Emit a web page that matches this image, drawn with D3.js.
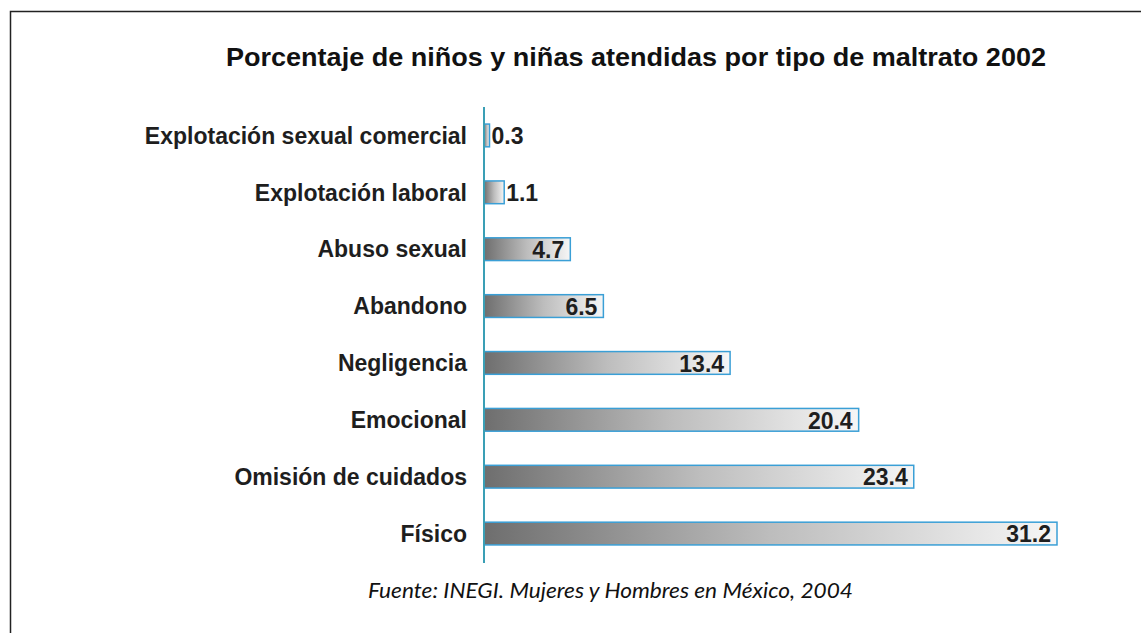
<!DOCTYPE html>
<html>
<head>
<meta charset="utf-8">
<script src="https://cdn.jsdelivr.net/npm/d3@7"></script>
<style>
  body { margin: 0; background: #fff; }
</style>
</head>
<body>
<div id="chart"></div>
<script>
var categories = ['Explotación sexual comercial', 'Explotación laboral', 'Abuso sexual', 'Abandono',
  'Negligencia', 'Emocional', 'Omisión de cuidados', 'Físico'];
var values = [0.3, 1.1, 4.7, 6.5, 13.4, 20.4, 23.4, 31.2];
var title = 'Porcentaje de niños y niñas atendidas por tipo de maltrato 2002';
var source = 'Fuente: INEGI. Mujeres y Hombres en México, 2004';

var W = 1141, H = 633;
var svg = d3.select('#chart').append('svg')
  .attr('width', W)
  .attr('height', H);

// outer frame (runs off the right and bottom)
svg.append('rect')
  .attr('x', 10.5).attr('y', 11.5)
  .attr('width', W).attr('height', H)
  .attr('fill', 'none')
  .attr('stroke', '#222')
  .attr('stroke-width', 1.5);

var grad = svg.append('defs').append('linearGradient')
  .attr('id', 'barfill')
  .attr('x1', '0%').attr('x2', '100%').attr('y1', '0%').attr('y2', '0%');
grad.append('stop').attr('offset', '0%').attr('stop-color', '#6e6e6e');
grad.append('stop').attr('offset', '50%').attr('stop-color', '#bdbdbd');
grad.append('stop').attr('offset', '100%').attr('stop-color', '#f6f6f6');

var x = d3.scaleLinear().domain([0, 31.2]).range([484, 1057]);
var y = d3.scaleBand().domain(categories).range([107, 562]).paddingInner(0.6).paddingOuter(0.3);

svg.append('text')
  .attr('x', 226).attr('y', 66)
  .attr('textLength', 820)
  .attr('lengthAdjust', 'spacingAndGlyphs')
  .attr('font-family', 'Liberation Sans, Arial, sans-serif')
  .attr('font-weight', 'bold')
  .attr('font-size', 25)
  .attr('fill', '#111')
  .text(title);

var bars = svg.selectAll('g.bar')
  .data(categories)
  .enter().append('g')
  .attr('class', 'bar');

bars.append('rect')
  .attr('x', x(0))
  .attr('y', function (d) { return y(d); })
  .attr('width', function (d, i) { return x(values[i]) - x(0); })
  .attr('height', y.bandwidth())
  .attr('fill', 'url(#barfill)')
  .attr('stroke', '#3a9fd6')
  .attr('stroke-width', 1.5);

bars.append('text')
  .attr('x', 467)
  .attr('y', function (d) { return y(d) + y.bandwidth() / 2; })
  .attr('dy', '0.36em')
  .attr('text-anchor', 'end')
  .attr('font-family', 'Liberation Sans, Arial, sans-serif')
  .attr('font-weight', 'bold')
  .attr('font-size', 23)
  .attr('fill', '#1e1e1e')
  .text(function (d) { return d; });

bars.append('text')
  .attr('x', function (d, i) { return values[i] < 3 ? x(values[i]) + 2 : x(values[i]) - 6; })
  .attr('y', function (d) { return y(d) + y.bandwidth() / 2; })
  .attr('dy', '0.38em')
  .attr('text-anchor', function (d, i) { return values[i] < 3 ? 'start' : 'end'; })
  .attr('font-family', 'Liberation Sans, Arial, sans-serif')
  .attr('font-weight', 'bold')
  .attr('font-size', 23)
  .attr('fill', '#1e1e1e')
  .text(function (d, i) { return values[i]; });

// vertical axis line
svg.append('line')
  .attr('x1', x(0)).attr('x2', x(0))
  .attr('y1', 107).attr('y2', 563)
  .attr('stroke', '#3a9fb5')
  .attr('stroke-width', 2);

svg.append('text')
  .attr('x', 368).attr('y', 598)
  .attr('textLength', 485)
  .attr('lengthAdjust', 'spacingAndGlyphs')
  .attr('font-family', 'Lato, sans-serif')
  .attr('font-style', 'italic')
  .attr('font-size', 21)
  .attr('fill', '#111')
  .text(source);
</script>
</body>
</html>
